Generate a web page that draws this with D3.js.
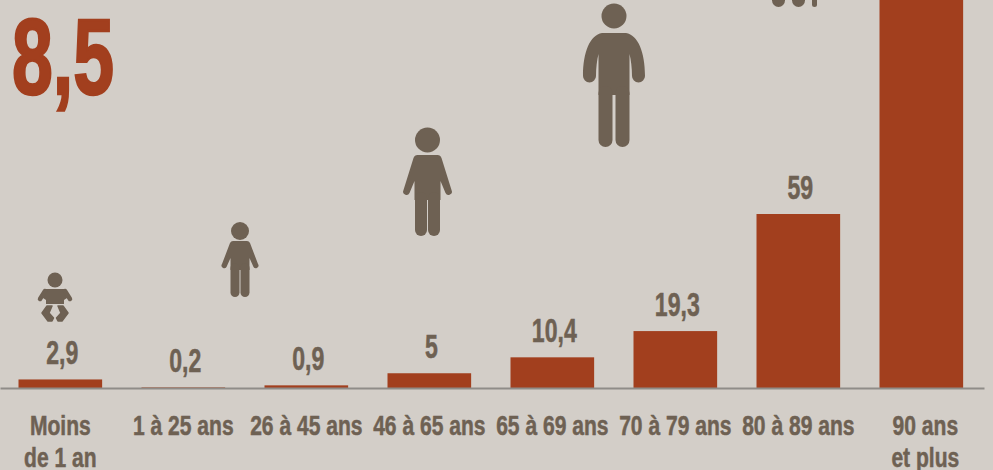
<!DOCTYPE html>
<html>
<head>
<meta charset="utf-8">
<script src="https://cdnjs.cloudflare.com/ajax/libs/d3/7.8.5/d3.min.js"></script>
<style>
html, body { margin: 0; padding: 0; background: #d3cec8; overflow: hidden; }
svg { display: block; }
text { font-family: "Liberation Sans Narrow", "Liberation Sans", sans-serif; font-weight: bold; fill: #6e6153; stroke: #6e6153; stroke-width: 0.5; }
</style>
</head>
<body>
<script>
const categories = ["Moins|de 1 an", "1 à 25 ans", "26 à 45 ans", "46 à 65 ans", "65 à 69 ans", "70 à 79 ans", "80 à 89 ans", "90 ans|et plus"];
// the last bar runs off the top of the picture, its value is only a guess
const values = [2.9, 0.2, 0.9, 5, 10.4, 19.3, 59, 140];
const valueLabels = ["2,9", "0,2", "0,9", "5", "10,4", "19,3", "59", ""];
const bigNumber = "8,5";

const width = 993, height = 470, baseline = 388;
const red = "#a23f1e", brown = "#6e6153";

let svg = d3.select("body").append("svg")
    .attr("width", width)
    .attr("height", height);

svg.append("rect")
    .attr("width", width)
    .attr("height", height)
    .attr("fill", "#d3cec8");

let x = d3.scaleBand()
    .domain(categories)
    .range([0, 984])
    .paddingInner(0.32)
    .paddingOuter(0.16)
    .align(0.47);

let y = d3.scaleLinear()
    .domain([0, 59])
    .range([baseline, 214]);

/* ------- BARS -------*/
svg.append("g").selectAll("rect")
    .data(values)
    .enter().append("rect")
    .attr("x", function(d, i) { return x(categories[i]); })
    .attr("y", function(d) { return y(d); })
    .attr("width", x.bandwidth())
    .attr("height", function(d) { return baseline - y(d); })
    .attr("fill", red);

/* ------- AXIS -------*/
let axis = svg.append("g")
    .attr("transform", "translate(0," + baseline + ")")
    .call(d3.axisBottom(x).tickSize(0).tickPadding(0).tickSizeOuter(0));

axis.select(".domain")
    .attr("stroke", "#8f8c88")
    .attr("stroke-width", 2);

axis.selectAll(".tick text").each(function(d, n) {
    let label = d3.select(this);
    let lines = d.split("|");
    label.text(null)
        .attr("y", 0)
        .attr("dy", null)
        .attr("text-anchor", "middle")
        .attr("font-size", 27)
        .attr("transform", "translate(" + (n == categories.length - 1 ? 4 : 0) + ",0) scale(0.78,1)");
    lines.forEach(function(line, i) {
        label.append("tspan")
            .attr("x", 0)
            .attr("y", 47 + i * 32)
            .text(line);
    });
});

/* ------- VALUE LABELS -------*/
svg.append("g").selectAll("text")
    .data(values)
    .enter().append("text")
    .attr("transform", function(d, i) {
        return "translate(" + (x(categories[i]) + x.bandwidth() / 2 + 2) + "," + (y(d) - 15) + ") scale(0.7,1)";
    })
    .attr("text-anchor", "middle")
    .attr("font-size", 33)
    .text(function(d, i) { return valueLabels[i]; });

svg.append("text")
    .attr("transform", "translate(12,94) scale(0.68,1)")
    .attr("font-size", 108)
    .style("fill", red)
    .style("stroke", red)
    .style("stroke-width", 2.5)
    .text(bigNumber);

/* ------- ICONS -------*/
let icons = svg.append("g").attr("fill", brown).attr("stroke", "none");

function legs(g, hip, foot, halfBody, legW) {
    [-1, 1].forEach(function(s) {
        g.append("path")
            .attr("d", "M" + s * (halfBody - legW / 2) + "," + hip + "V" + (foot - legW / 2))
            .attr("fill", "none").attr("stroke", brown)
            .attr("stroke-width", legW).attr("stroke-linecap", "round");
    });
}

// baby
let baby = icons.append("g").attr("transform", "translate(55,0)");
baby.append("circle").attr("cy", 280).attr("r", 7.5);
baby.append("path").attr("d", "M-9,289H9L15,296L9,300V304H-9V300L-15,296Z");
[-1, 1].forEach(function(s) {
    baby.append("path")
        .attr("d", "M" + s * 10 + ",291L" + s * 15 + ",299")
        .attr("fill", "none").attr("stroke", brown).attr("stroke-width", 4.5).attr("stroke-linecap", "round");
    baby.append("path")
        .attr("d", "M" + s * 3 + ",306H" + s * 8 + "L" + s * 13 + ",313L" + s * 7 + ",321H" + s * 3 + "L" + s * 1.5 + ",318L" + s * 6 + ",313Z")
        .attr("stroke", brown).attr("stroke-width", 1.5).attr("stroke-linejoin", "round");
});

// small child
let child = icons.append("g").attr("transform", "translate(240,0)");
child.append("circle").attr("cy", 231).attr("r", 9);
child.append("path").attr("d", "M-7,241H7Q9,241 10,243L18,264A2.5,2.5 0 0 1 13.5,267L9.5,258V270H-9.5V258L-13.5,267A2.5,2.5 0 0 1 -18,264L-10,243Q-9,241 -7,241Z");
legs(child, 268, 297, 9.5, 9);

// older child
let kid = icons.append("g").attr("transform", "translate(427.5,0)");
kid.append("circle").attr("cy", 140).attr("r", 12.5);
kid.append("path").attr("d", "M-10,155H10Q13,155 14,158L24,190A3.2,3.2 0 0 1 18,193L13,181V200H-13V181L-18,193A3.2,3.2 0 0 1 -24,190L-14,158Q-13,155 -10,155Z");
legs(kid, 198, 236, 12.5, 12);

// adult
let adult = icons.append("g").attr("transform", "translate(614,0)");
adult.append("circle").attr("cy", 16).attr("r", 12.5);
adult.append("path").attr("d", "M-12,33H12C24,35 31,52 31,76A6.5,6.5 0 0 1 18,76C18,68 17,60 15.5,54V95H-15.5V54C-17,60 -18,68 -18,76A6.5,6.5 0 0 1 -31,76C-31,52 -24,35 -12,33Z");
legs(adult, 93, 147, 15.5, 14);

// elder, only the feet and the stick reach into the picture
[[778.5, 13], [798.5, 13], [814.5, 5]].forEach(function(d) {
    icons.append("rect")
        .attr("x", d[0] - d[1] / 2)
        .attr("y", -20)
        .attr("width", d[1])
        .attr("height", 27)
        .attr("rx", d[1] / 2);
});
</script>
</body>
</html>
